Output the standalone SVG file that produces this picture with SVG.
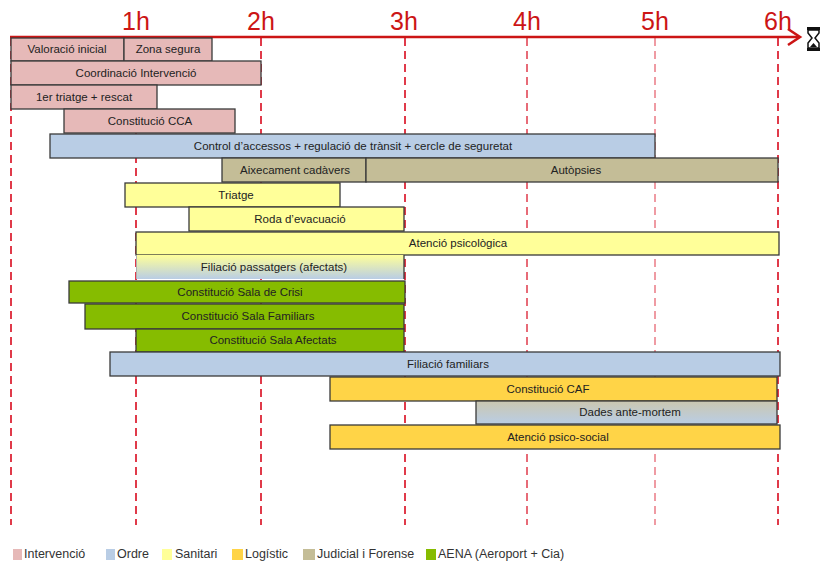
<svg xmlns="http://www.w3.org/2000/svg" width="821" height="565" viewBox="0 0 821 565">
<defs>
<style>
.bar{stroke:#3a3a3a;stroke-width:1.3}
.int{fill:#e6b9b8}
.ord{fill:#b9cde5}
.san{fill:#ffff99}
.log{fill:#ffd447}
.jud{fill:#c4bd97}
.aena{fill:#86bc00}
.lbl{font-family:"Liberation Sans",Arial,sans-serif;font-size:11.5px;fill:#222;text-anchor:middle}
.hr{font-family:"Liberation Sans",Arial,sans-serif;font-size:25px;fill:#cc1515;text-anchor:middle}
.grid{stroke:#e03a4a;stroke-width:2;stroke-dasharray:8 5}
.leg{font-family:"Liberation Sans",Arial,sans-serif;font-size:12.5px;fill:#333}
</style>
<linearGradient id="gYB" x1="0" y1="0" x2="0" y2="1"><stop offset="0" stop-color="#ffff99"/><stop offset="1" stop-color="#b9cde5"/></linearGradient>
<linearGradient id="gTB" x1="0" y1="0" x2="0" y2="1"><stop offset="0" stop-color="#cbc7b0"/><stop offset="1" stop-color="#b9cde5"/></linearGradient>
</defs>
<rect width="821" height="565" fill="#fff"/>
<g id="grid">
<line class="grid" x1="11" y1="38" x2="11" y2="525"/>
<line class="grid" x1="136" y1="38" x2="136" y2="525"/>
<line class="grid" x1="261" y1="38" x2="261" y2="525"/>
<line class="grid" x1="405" y1="38" x2="405" y2="525"/>
<line class="grid" x1="527" y1="38" x2="527" y2="525" opacity="0.75"/>
<line class="grid" x1="655" y1="38" x2="655" y2="525" opacity="0.5"/>
<line class="grid" x1="778" y1="38" x2="778" y2="525"/>
</g>
<g id="axis">
<line x1="10" y1="37" x2="799" y2="37" stroke="#cc1515" stroke-width="2.6"/>
<polyline points="788,29 800,37 788,45" fill="none" stroke="#cc1515" stroke-width="2.6"/>
<text class="hr" x="136" y="30">1h</text>
<text class="hr" x="261" y="30">2h</text>
<text class="hr" x="404" y="30">3h</text>
<text class="hr" x="527" y="30">4h</text>
<text class="hr" x="655" y="30">5h</text>
<text class="hr" x="778" y="30">6h</text>
<g id="hourglass" fill="#111">
<rect x="807" y="27" width="13" height="3"/>
<rect x="807" y="48" width="13" height="3"/>
<path d="M808,30 h11 v3 l-4,5 l4,5 v5 h-11 v-5 l4,-5 l-4,-5 z" fill="none" stroke="#111" stroke-width="1.5"/>
<path d="M810,47 l3.5,-4 l3.5,4 z"/>
</g>
</g>
<g id="n-valoracio"><rect class="bar int" x="11" y="38" width="113" height="23"/><text class="lbl" x="67" y="53">Valoració inicial</text></g>
<g id="n-zona"><rect class="bar int" x="124" y="38" width="88" height="23"/><text class="lbl" x="168" y="53">Zona segura</text></g>
<g id="n-coord"><rect class="bar int" x="11" y="61" width="250" height="24"/><text class="lbl" x="136" y="77">Coordinació Intervenció</text></g>
<g id="n-triatge1"><rect class="bar int" x="11" y="85" width="146" height="24"/><text class="lbl" x="84" y="101">1er triatge + rescat</text></g>
<g id="n-cca"><rect class="bar int" x="64" y="109" width="171" height="24"/><text class="lbl" x="150" y="125">Constitució CCA</text></g>
<g id="n-control"><rect class="bar ord" x="50" y="134" width="605" height="24"/><text class="lbl" x="353" y="150">Control d’accessos + regulació de trànsit + cercle de seguretat</text></g>
<g id="n-aixecament"><rect class="bar jud" x="222" y="158" width="144" height="24"/><text class="lbl" x="295" y="174">Aixecament cadàvers</text></g>
<g id="n-autopsies"><rect class="bar jud" x="366" y="158" width="412" height="24"/><text class="lbl" x="576" y="174">Autòpsies</text></g>
<g id="n-triatge"><rect class="bar san" x="125" y="183" width="215" height="24"/><text class="lbl" x="236" y="199">Triatge</text></g>
<g id="n-roda"><rect class="bar san" x="189" y="207" width="215" height="24"/><text class="lbl" x="300" y="223">Roda d’evacuació</text></g>
<g id="n-psico"><rect class="bar san" x="136" y="232" width="643" height="23"/><text class="lbl" x="458" y="247">Atenció psicològica</text></g>
<g id="n-filpass"><rect x="136" y="255" width="268" height="24" fill="url(#gYB)" stroke="none"/><line x1="136.5" y1="255" x2="136.5" y2="279" stroke="#b0b0b0" stroke-width="1"/><line x1="404" y1="255" x2="404" y2="279" stroke="#3a3a3a" stroke-width="1.3"/><text class="lbl" x="274" y="271">Filiació passatgers (afectats)</text></g>
<g id="n-crisi"><rect class="bar aena" x="69" y="281" width="336" height="22"/><text class="lbl" x="240" y="296">Constitució Sala de Crisi</text></g>
<g id="n-familiars"><rect class="bar aena" x="85" y="304" width="319" height="25"/><text class="lbl" x="248" y="320">Constitució Sala Familiars</text></g>
<g id="n-afectats"><rect class="bar aena" x="136" y="329" width="268" height="23"/><text class="lbl" x="273" y="344">Constitució Sala Afectats</text></g>
<g id="n-filfam"><rect class="bar ord" x="110" y="352" width="670" height="24"/><text class="lbl" x="448" y="368">Filiació familiars</text></g>
<g id="n-caf"><rect class="bar log" x="330" y="377" width="447" height="24"/><text class="lbl" x="548" y="393">Constitució CAF</text></g>
<g id="n-dades"><rect class="bar" x="476" y="401" width="301" height="23" fill="url(#gTB)"/><text class="lbl" x="630" y="416">Dades ante-mortem</text></g>
<g id="n-psicosocial"><rect class="bar log" x="330" y="425" width="450" height="24"/><text class="lbl" x="558" y="441">Atenció psico-social</text></g>
<g id="legend">
<rect class="int" x="13" y="549" width="9" height="11"/><text class="leg" x="24" y="558">Intervenció</text>
<rect class="ord" x="106" y="549" width="9" height="11"/><text class="leg" x="117" y="558">Ordre</text>
<rect class="san" x="162" y="549" width="10" height="11"/><text class="leg" x="175" y="558">Sanitari</text>
<rect class="log" x="232" y="549" width="11" height="11"/><text class="leg" x="245" y="558">Logístic</text>
<rect class="jud" x="303" y="549" width="12" height="11"/><text class="leg" x="317" y="558">Judicial i Forense</text>
<rect class="aena" x="426" y="549" width="10" height="11"/><text class="leg" x="438" y="558">AENA (Aeroport + Cia)</text>
</g>
</svg>
